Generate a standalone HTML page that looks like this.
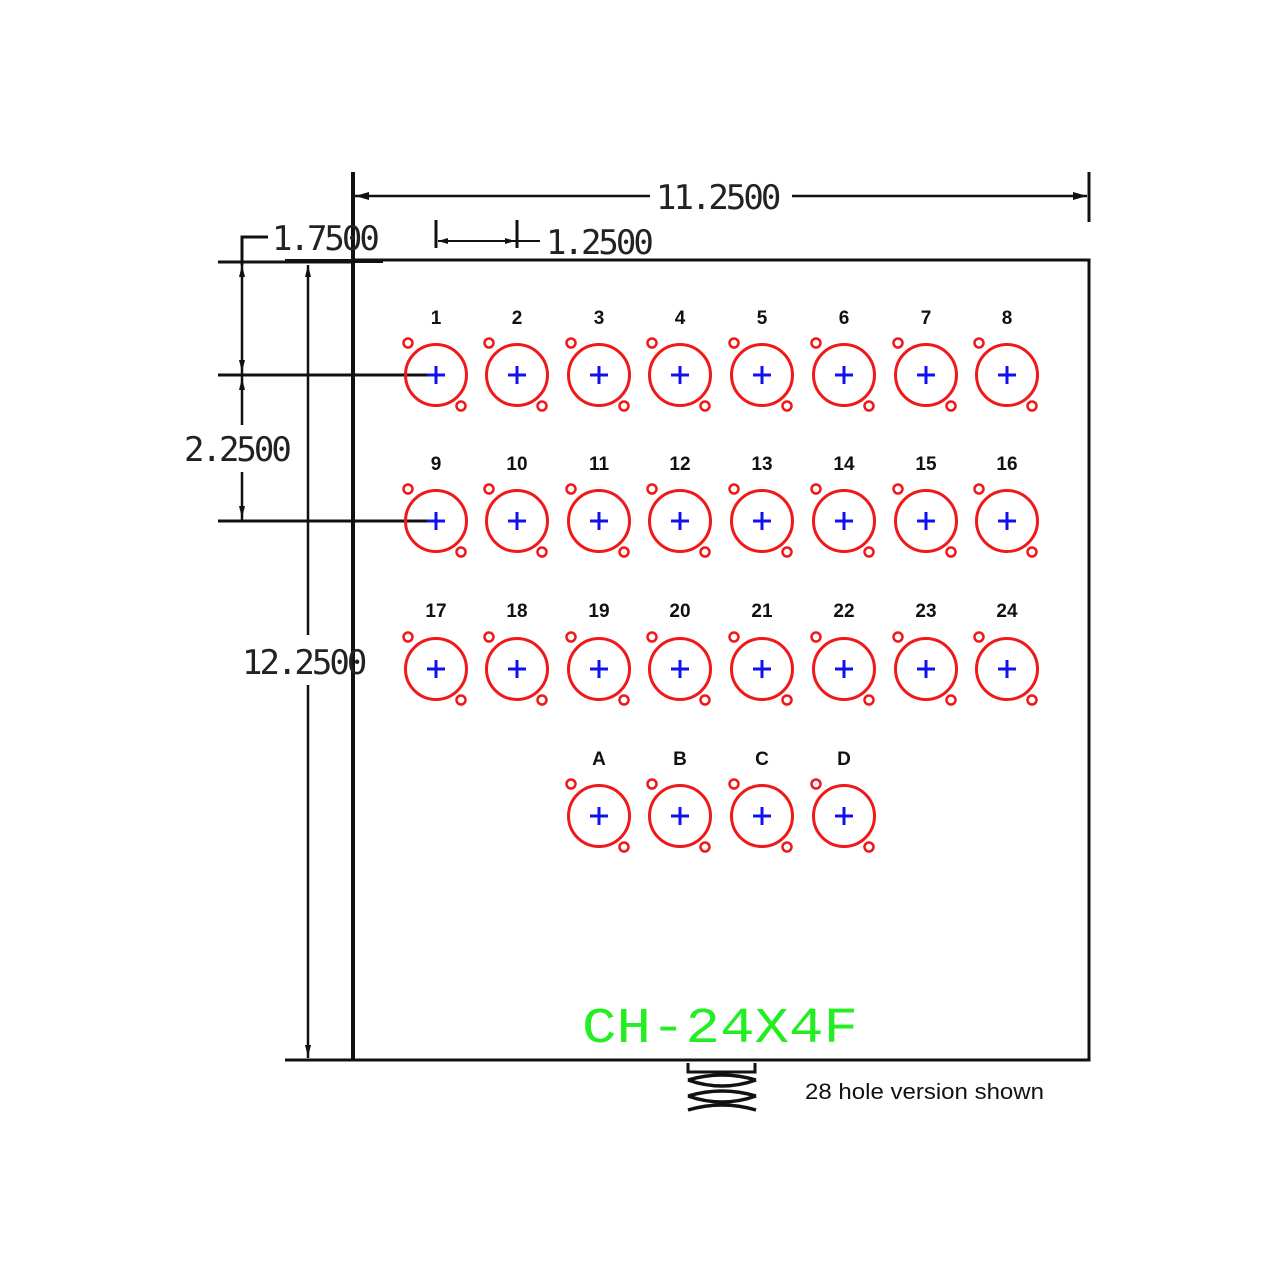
<!DOCTYPE html>
<html><head><meta charset="utf-8"><style>
html,body{margin:0;padding:0;background:#fff;width:1280px;height:1280px;overflow:hidden}
svg{display:block}
.dim{font-family:"DejaVu Sans Mono","Liberation Mono",monospace;font-size:34px;fill:#222;letter-spacing:-3px}
.lab{font-family:"Liberation Sans",sans-serif;font-weight:bold;font-size:19px;fill:#111;text-anchor:middle}
</style></head><body>
<svg width="1280" height="1280" viewBox="0 0 1280 1280" xmlns="http://www.w3.org/2000/svg">
<defs>
<g id="c">
<circle cx="0" cy="0" r="30.5" fill="none" stroke="#f01818" stroke-width="3"/>
<circle cx="-28" cy="-32" r="4.5" fill="#fff" stroke="#f01818" stroke-width="2.5"/>
<circle cx="25" cy="31" r="4.5" fill="#fff" stroke="#f01818" stroke-width="2.5"/>
<path d="M-9 0H9M0 -9V9" stroke="#1010f0" stroke-width="3"/>
</g>
</defs>
<g stroke="#111" fill="none">
<rect x="353" y="260" width="736" height="800" stroke-width="3"/>
<line x1="353" y1="172" x2="353" y2="1060" stroke-width="4"/>
<line x1="355" y1="196" x2="650" y2="196" stroke-width="2.5"/>
<line x1="792" y1="196" x2="1087" y2="196" stroke-width="2.5"/>
<line x1="1089" y1="172" x2="1089" y2="222" stroke-width="3"/>
<line x1="436" y1="220" x2="436" y2="248" stroke-width="3"/>
<line x1="517" y1="220" x2="517" y2="248" stroke-width="3"/>
<line x1="438" y1="241" x2="540" y2="241" stroke-width="2"/>
<line x1="218" y1="262" x2="353" y2="262" stroke-width="3"/>
<line x1="285" y1="261" x2="383" y2="261" stroke-width="4"/>
<path d="M242 265 V237 H268" stroke-width="3"/>
<line x1="242" y1="265" x2="242" y2="425" stroke-width="2.5"/>
<line x1="242" y1="472" x2="242" y2="521" stroke-width="2.5"/>
<line x1="218" y1="375" x2="436" y2="375" stroke-width="3"/>
<line x1="218" y1="521" x2="436" y2="521" stroke-width="3"/>
<line x1="308" y1="265" x2="308" y2="635" stroke-width="2.5"/>
<line x1="308" y1="685" x2="308" y2="1058" stroke-width="2.5"/>
<line x1="285" y1="1060" x2="380" y2="1060" stroke-width="3"/>
<path d="M688 1063 V1072 H755 V1063" stroke-width="3"/>
<path d="M688 1080 Q722 1092 756 1080 M688 1080 Q722 1070 756 1080 M688 1096 Q722 1108 756 1096 M688 1096 Q722 1086 756 1096 M688 1110 Q722 1100 756 1110" stroke-width="3.5"/>
</g>
<g fill="#111">
<path d="M355 196 l14 -4 v8z M1087 196 l-14 -4 v8z M438 241 l10 -3 v6z M515 241 l-10 -3 v6z M242 265 l-3 12 h6z M242 372 l-3 -12 h6z M242 378 l-3 12 h6z M242 518 l-3 -12 h6z M308 265 l-3 12 h6z M308 1057 l-3 -12 h6z"/>
</g>
<text class="dim" x="656" y="209">11.2500</text>
<text class="dim" x="546" y="254">1.2500</text>
<text class="dim" x="272" y="250">1.7500</text>
<text class="dim" x="184" y="461">2.2500</text>
<text class="dim" x="242" y="674">12.2500</text>
<g>
<use href="#c" x="436" y="375"/><use href="#c" x="517" y="375"/><use href="#c" x="599" y="375"/><use href="#c" x="680" y="375"/><use href="#c" x="762" y="375"/><use href="#c" x="844" y="375"/><use href="#c" x="926" y="375"/><use href="#c" x="1007" y="375"/>
<use href="#c" x="436" y="521"/><use href="#c" x="517" y="521"/><use href="#c" x="599" y="521"/><use href="#c" x="680" y="521"/><use href="#c" x="762" y="521"/><use href="#c" x="844" y="521"/><use href="#c" x="926" y="521"/><use href="#c" x="1007" y="521"/>
<use href="#c" x="436" y="669"/><use href="#c" x="517" y="669"/><use href="#c" x="599" y="669"/><use href="#c" x="680" y="669"/><use href="#c" x="762" y="669"/><use href="#c" x="844" y="669"/><use href="#c" x="926" y="669"/><use href="#c" x="1007" y="669"/>
<use href="#c" x="599" y="816"/><use href="#c" x="680" y="816"/><use href="#c" x="762" y="816"/><use href="#c" x="844" y="816"/>
</g>
<g class="lab">
<text x="436" y="324">1</text><text x="517" y="324">2</text><text x="599" y="324">3</text><text x="680" y="324">4</text><text x="762" y="324">5</text><text x="844" y="324">6</text><text x="926" y="324">7</text><text x="1007" y="324">8</text>
<text x="436" y="470">9</text><text x="517" y="470">10</text><text x="599" y="470">11</text><text x="680" y="470">12</text><text x="762" y="470">13</text><text x="844" y="470">14</text><text x="926" y="470">15</text><text x="1007" y="470">16</text>
<text x="436" y="617">17</text><text x="517" y="617">18</text><text x="599" y="617">19</text><text x="680" y="617">20</text><text x="762" y="617">21</text><text x="844" y="617">22</text><text x="926" y="617">23</text><text x="1007" y="617">24</text>
<text x="599" y="765">A</text><text x="680" y="765">B</text><text x="762" y="765">C</text><text x="844" y="765">D</text>
</g>
<text x="582" y="1042" font-family="Liberation Mono,DejaVu Sans Mono,monospace" font-size="50" fill="#22ee22" textLength="276" lengthAdjust="spacingAndGlyphs">CH-24X4F</text>
<text x="805" y="1099" font-family="Liberation Sans,sans-serif" font-size="22" fill="#111" textLength="239" lengthAdjust="spacingAndGlyphs">28 hole version shown</text>
</svg>
</body></html>
